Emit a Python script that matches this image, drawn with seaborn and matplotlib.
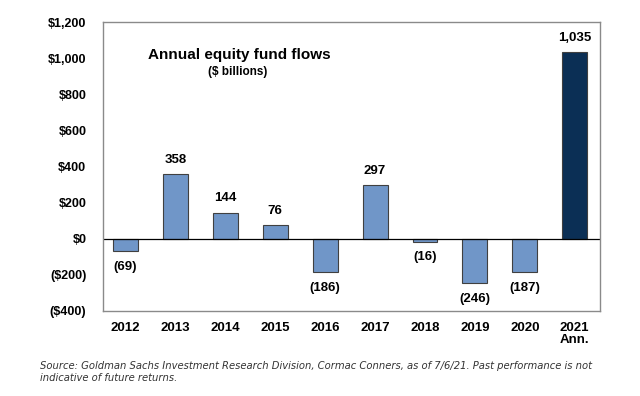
import matplotlib
matplotlib.use("Agg")
import matplotlib.pyplot as plt
import seaborn as sns
import pandas as pd

categories = ["2012", "2013", "2014", "2015", "2016", "2017", "2018", "2019", "2020", "2021\nAnn."]
values = [-69, 358, 144, 76, -186, 297, -16, -246, -187, 1035]
value_labels = ["(69)", "358", "144", "76", "(186)", "297", "(16)", "(246)", "(187)", "1,035"]
ytick_values = [-400, -200, 0, 200, 400, 600, 800, 1000, 1200]
ytick_labels = ["($400)", "($200)", "$0", "$200", "$400", "$600", "$800", "$1,000", "$1,200"]

sns.set_theme(style="white")
plt.rcParams["font.family"] = ["Liberation Sans", "DejaVu Sans"]
plt.rcParams["text.color"] = "black"
plt.rcParams["xtick.color"] = "black"
plt.rcParams["ytick.color"] = "black"

df = pd.DataFrame({"year": categories, "flow": values})
colors = ["#7096C8"] * (len(categories) - 1) + ["#0B2F55"]

fig = plt.figure(figsize=(6.4, 3.96), dpi=100)
ax = fig.add_axes([0.161, 0.215, 0.776, 0.729])
sns.barplot(data=df, x="year", y="flow", hue="year", palette=colors, legend=False,
            width=0.5, edgecolor="#404040", linewidth=0.8, ax=ax, saturation=1)

ax.set_ylim(-400, 1200)
ax.set_xlim(-0.45, 9.5)
ax.set_yticks(ytick_values)
ax.set_yticklabels(ytick_labels, fontsize=9, fontweight="bold")
ax.set_xticks(range(len(categories)))
ax.set_xticklabels(categories, fontsize=9.5, fontweight="bold", linespacing=1.0)
ax.set_xlabel("")
ax.set_ylabel("")
ax.tick_params(axis="y", pad=12, length=0)
ax.tick_params(axis="x", pad=8, length=0)
ax.axhline(0, color="black", linewidth=0.9)
for s in ax.spines.values():
    s.set_color("#8a8a8a")
    s.set_linewidth(1.0)

for i, (v, lab) in enumerate(zip(values, value_labels)):
    if v >= 0:
        ax.annotate(lab, (i, v), xytext=(0, 6), textcoords="offset points",
                    ha="center", va="bottom", fontsize=9.5, fontweight="bold")
    else:
        ax.annotate(lab, (i, v), xytext=(0, -7), textcoords="offset points",
                    ha="center", va="top", fontsize=9.5, fontweight="bold")

fig.text(148 / 640, 1 - 55 / 396, "Annual equity fund flows", fontsize=11,
         fontweight="bold", ha="left", va="center")
fig.text(238 / 640, 1 - 72 / 396, "($ billions)", fontsize=8.5,
         fontweight="bold", ha="center", va="center")

fig.text(40 / 640, 1 - 366 / 396,
         "Source: Goldman Sachs Investment Research Division, Cormac Conners, as of 7/6/21. Past performance is not",
         fontsize=7.2, style="italic", color="#333333", ha="left", va="center",
         family=["DejaVu Sans"])
fig.text(40 / 640, 1 - 378 / 396, "indicative of future returns.",
         fontsize=7.2, style="italic", color="#333333", ha="left", va="center",
         family=["DejaVu Sans"])

fig.savefig("out.png", dpi=100, facecolor="white")
